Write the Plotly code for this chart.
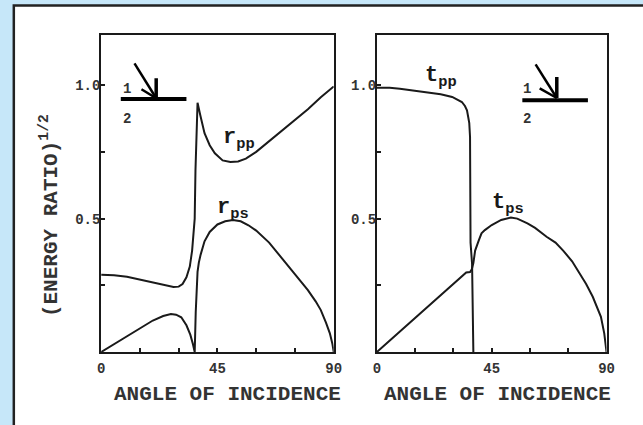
import plotly.graph_objects as go

# ---- data ----
rpp_angle = [0, 5, 10, 15, 20, 25, 28, 30, 31.5, 33, 34.3, 35.2, 35.8, 36.2, 36.5, 36.8, 37.1, 37.3,
             38.3, 40, 42, 44, 47, 50, 53, 56, 60, 65, 70, 75, 80, 85, 90]
rpp_value = [0.29, 0.288, 0.282, 0.272, 0.262, 0.25, 0.244, 0.245, 0.255, 0.28, 0.32, 0.38, 0.44, 0.5,
             0.68, 0.825, 0.9, 0.934, 0.89, 0.82, 0.775, 0.745, 0.718, 0.712, 0.714, 0.725, 0.75, 0.79,
             0.83, 0.87, 0.91, 0.955, 0.995]

rps_angle = [0, 5, 10, 15, 20, 24, 27, 29, 31, 33, 34.5, 35.5, 36.2, 36.6, 36.9, 37.3, 37.8, 38.5, 40,
             42, 45, 48, 51, 54, 57, 60, 65, 70, 75, 80, 83, 85, 87, 88.5, 89.5, 90]
rps_value = [0, 0.03, 0.06, 0.09, 0.118, 0.135, 0.142, 0.14, 0.13, 0.1, 0.065, 0.03, 0.0, 0.15, 0.24,
             0.3, 0.335, 0.365, 0.415, 0.45, 0.478, 0.49, 0.495, 0.49, 0.475, 0.455, 0.41, 0.35, 0.29,
             0.232, 0.19, 0.157, 0.11, 0.07, 0.03, 0.0]

tpp_angle = [0, 5, 9, 15, 20, 25, 29.5, 32, 33.3, 34.5, 35.3, 35.8, 36.2, 36.5, 36.6, 36.7, 37.3, 37.6, 37.8]
tpp_value = [0.99, 0.99, 0.987, 0.98, 0.974, 0.966, 0.956, 0.945, 0.937, 0.922, 0.906, 0.88, 0.858, 0.806,
             0.6, 0.41, 0.33, 0.2, 0.0]

tps_angle = [0, 5, 10, 15, 19.2, 25, 30, 35, 36.5, 37.2, 37.8, 38.5, 40, 41, 42.3, 45, 48.7, 52.5, 55, 59,
             62, 66.5, 70, 73, 76.5, 79.5, 82, 84.6, 86.5, 87.8, 89.1, 90]
tps_value = [0, 0.043, 0.086, 0.129, 0.165, 0.214, 0.257, 0.298, 0.3, 0.31, 0.333, 0.38, 0.42, 0.445, 0.457,
             0.476, 0.495, 0.504, 0.5, 0.482, 0.465, 0.432, 0.41, 0.38, 0.34, 0.295, 0.255, 0.207, 0.165,
             0.132, 0.07, 0.0]

x_tickvals = [0, 45, 90]
x_ticktext = ["0", "45", "90"]
x_minor_vals = [15, 30, 60, 75]
y_tickvals = [0.5, 1.0]
y_ticktext = ["0.5", "1.0"]
y_minor_vals = [0.25, 0.75]

x_title = "ANGLE OF INCIDENCE"
y_title = "(ENERGY RATIO)<sup>1/2</sup>"

FONT = "Courier New, Liberation Mono, monospace"
INK = "#1a1a1a"
W, H = 643, 425

def px_x(p):
    return p / W

def px_y(p):
    return 1 - p / H

fig = go.Figure()
line = dict(color=INK, width=2)
fig.add_trace(go.Scatter(x=rpp_angle, y=rpp_value, mode="lines", line=line, xaxis="x", yaxis="y"))
fig.add_trace(go.Scatter(x=rps_angle, y=rps_value, mode="lines", line=line, xaxis="x", yaxis="y"))
fig.add_trace(go.Scatter(x=tpp_angle, y=tpp_value, mode="lines", line=line, xaxis="x2", yaxis="y2"))
fig.add_trace(go.Scatter(x=tps_angle, y=tps_value, mode="lines", line=line, xaxis="x2", yaxis="y2"))

tickfont = dict(family=FONT, size=14, color="#333", weight="bold")
minor_style = dict(ticks="inside", ticklen=4, tickwidth=2, tickcolor=INK, showgrid=False)
xcommon = dict(range=[0, 90], tickmode="array", tickvals=x_tickvals, ticktext=x_ticktext, ticks="inside",
               ticklen=4, tickwidth=2, tickcolor=INK, showline=True, linecolor=INK, linewidth=2,
               mirror=True, showgrid=False, zeroline=False, tickfont=tickfont, ticklabelstandoff=2,
               minor=dict(tickmode="array", tickvals=x_minor_vals, **minor_style))
ycommon = dict(range=[0, 1.19], tickmode="array", tickvals=y_tickvals, ticktext=y_ticktext, ticks="inside",
               ticklen=4, tickwidth=2, tickcolor=INK, showline=True, linecolor=INK, linewidth=2,
               mirror=True, showgrid=False, zeroline=False, tickfont=tickfont, ticklabelstandoff=-4,
               minor=dict(tickmode="array", tickvals=y_minor_vals, **minor_style),
               domain=[px_y(352), px_y(34.5)])

fig.update_layout(
    width=W, height=H, margin=dict(l=0, r=0, t=0, b=0),
    paper_bgcolor="#c6e7f9", plot_bgcolor="white", showlegend=False,
    xaxis=dict(domain=[px_x(99), px_x(336)], anchor="y", **xcommon),
    yaxis=dict(anchor="x", **ycommon),
    xaxis2=dict(domain=[px_x(380), px_x(614)], anchor="y2", **xcommon),
    yaxis2=dict(anchor="x2", **ycommon),
)

# white panel with dark border
fig.add_shape(type="rect", xref="paper", yref="paper", x0=px_x(10), x1=1.05, y0=-0.05, y1=px_y(5.5),
              fillcolor="white", line=dict(color="#222", width=2.5), layer="below")

ann = []
title_font = dict(family=FONT, size=21, color="#333", weight="bold")
ann.append(dict(text=x_title, xref="paper", yref="paper", x=px_x(228), y=px_y(394), showarrow=False,
                font=title_font, xanchor="center", yanchor="middle"))
ann.append(dict(text=x_title, xref="paper", yref="paper", x=px_x(503), y=px_y(394), showarrow=False,
                font=title_font, xanchor="center", yanchor="middle"))
ann.append(dict(text=y_title, xref="paper", yref="paper", x=px_x(47), y=px_y(216), showarrow=False,
                font=title_font, textangle=-90, xanchor="center", yanchor="middle"))

lab_font = dict(family=FONT, size=22, color=INK, weight="bold")
curve_labels = [("r<sub>pp</sub>", "x", "y", 53.2, 0.80),
                ("r<sub>ps</sub>", "x", "y", 50.9, 0.535),
                ("t<sub>pp</sub>", "x2", "y2", 25.0, 1.03),
                ("t<sub>ps</sub>", "x2", "y2", 51.2, 0.555)]
for t, xr, yr, xv, yv in curve_labels:
    ann.append(dict(text=t, xref=xr, yref=yr, x=xv, y=yv, showarrow=False, font=lab_font,
                    xanchor="center", yanchor="middle"))

# incidence sketches:
# (xref, yref, line x0, line x1, line y, tail x, tail y, tip x, tip y, head-top y, head-left x, head-left y, label x)
sketches = [("x", "y", 7.6, 33.0, 0.948, 12.9, 1.082, 21.3, 0.951, 1.026, 15.6, 0.985, 9.9),
            ("x2", "y2", 57.0, 82.7, 0.944, 62.2, 1.078, 70.5, 0.952, 1.031, 63.8, 0.988, 58.7)]
small_font = dict(family=FONT, size=14, color="#333", weight="bold")
for xr, yr, lx0, lx1, ly, tx, ty, hx, hy, vty, hlx, hly, labx in sketches:
    fig.add_shape(type="line", xref=xr, yref=yr, x0=lx0, x1=lx1, y0=ly, y1=ly,
                  line=dict(color="black", width=4))
    fig.add_shape(type="line", xref=xr, yref=yr, x0=tx, y0=ty, x1=hx, y1=hy,
                  line=dict(color="black", width=2.5))
    fig.add_shape(type="line", xref=xr, yref=yr, x0=hx, y0=hy, x1=hx, y1=vty,
                  line=dict(color="black", width=3.5))
    fig.add_shape(type="line", xref=xr, yref=yr, x0=hx, y0=hy, x1=hlx, y1=hly,
                  line=dict(color="black", width=2.5))
    ann.append(dict(text="1", xref=xr, yref=yr, x=labx, y=0.985, showarrow=False, font=small_font))
    ann.append(dict(text="2", xref=xr, yref=yr, x=labx, y=0.875, showarrow=False, font=small_font))

fig.update_layout(annotations=ann)
fig.write_html("out.html")
